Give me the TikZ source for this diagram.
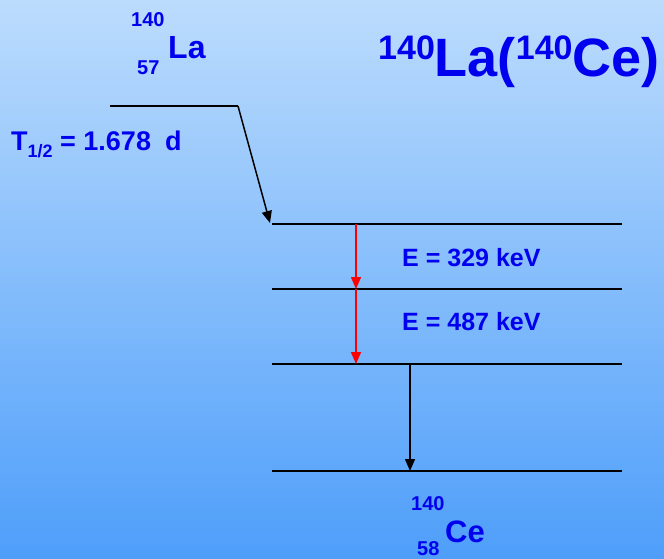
\documentclass[tikz,border=0pt]{standalone}
\usepackage{fontspec}
\setmainfont{Liberation Sans}
\usetikzlibrary{arrows.meta, positioning}
\definecolor{labelblue}{RGB}{0,0,238}
\definecolor{skytop}{RGB}{188,220,253}
\definecolor{skybottom}{RGB}{78,158,250}
\newcommand{\fsz}[1]{\fontsize{#1}{#1}\selectfont}

\begin{document}
\begin{tikzpicture}[x=1pt, y=-1pt,
    level/.style={line width=2pt},
    decay/.style={line width=1.5pt, -{Triangle[length=12pt, width=10pt]}},
    gamma/.style={decay, red},
    txt/.style={inner sep=0pt, anchor=base west, text=labelblue, font=\bfseries}]
    % background
    \fill[top color=skytop, bottom color=skybottom] (0,0) rectangle (664,559);
    \useasboundingbox (0,0) rectangle (664,559);

    % parent level and the levels of the daughter
    \coordinate (la-l) at (110,106);
    \coordinate (la-r) at (238,106);
    \coordinate (e2-l) at (272,224);
    \coordinate (e2-r) at (622,224);
    \coordinate (e1-l) at (272,289);
    \coordinate (e1-r) at (622,289);
    \coordinate (e0-l) at (272,364);
    \coordinate (e0-r) at (622,364);
    \coordinate (gs-l) at (272,471);
    \coordinate (gs-r) at (622,471);

    % arrow ends on the levels
    \coordinate (beta) at (270,223);
    \coordinate (g1-top) at (356,224);
    \coordinate (g1-bot) at (356,289);
    \coordinate (g2-bot) at (356,364);
    \coordinate (g3-top) at (410,364);
    \coordinate (g3-bot) at (410,471);

    \draw[level] (la-l) -- (la-r);
    \draw[level] (e2-l) -- (e2-r);
    \draw[level] (e1-l) -- (e1-r);
    \draw[level] (e0-l) -- (e0-r);
    \draw[level] (gs-l) -- (gs-r);

    \path
        % beta decay
        (la-r) edge[decay] (beta)
        % gamma cascade
        (g1-top) edge[gamma] (g1-bot)
        (g1-bot) edge[gamma] (g2-bot)
        % to the ground state
        (g3-top) edge[decay] (g3-bot);

    % labels
    \node[txt] (title) at (378,77) {\fsz{54}\raisebox{17pt}{\fsz{34}140}La(\raisebox{17pt}{\fsz{34}140}Ce)};
    \node[txt] (la-a) at (131,27) {\fsz{20}140};
    \node[txt] (la-z) at (137,75) {\fsz{20}57};
    \node[txt] (la) at (168,59) {\fsz{32}La};
    \node[txt] (thalf) at (11,151) {\fsz{27}T\raisebox{-6pt}{\fsz{18}1/2} = 1.678\hspace{14pt}d};
    \node[txt] (e329) at (402,266) {\fsz{25}E = 329 keV};
    \node[txt] (e487) at (402,330) {\fsz{25}E = 487 keV};
    \node[txt] (ce-a) at (411,510) {\fsz{20}140};
    \node[txt] (ce) at (445,542) {\fsz{31}Ce};
    \node[txt] (ce-z) at (417,555) {\fsz{20}58};
\end{tikzpicture}
\end{document}
